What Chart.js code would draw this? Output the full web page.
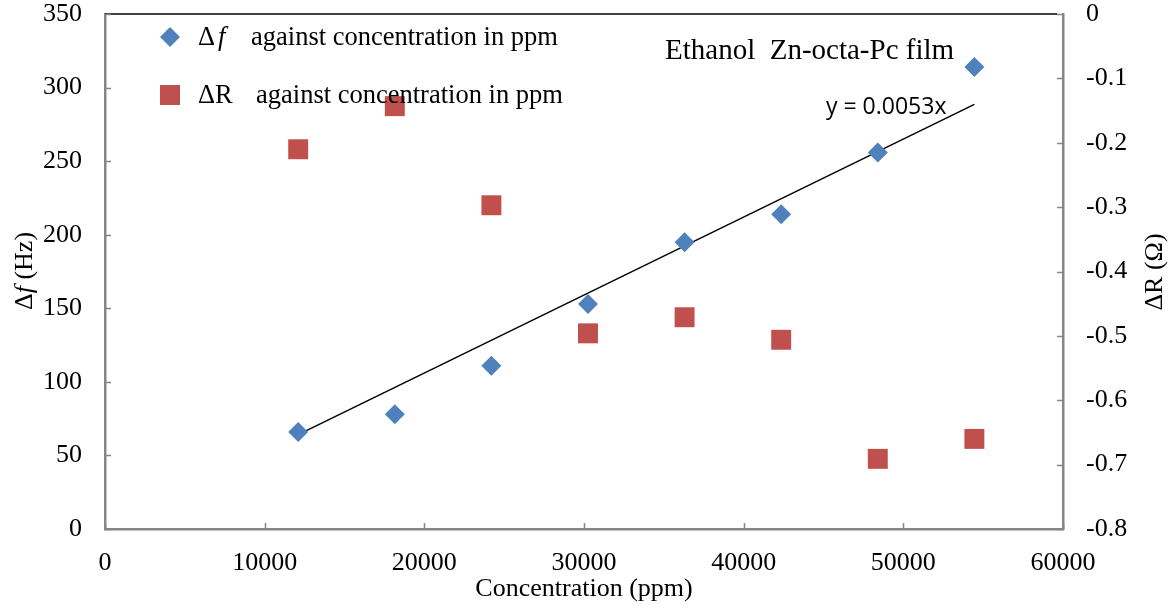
<!DOCTYPE html>
<html lang="en">
<head>
    <meta charset="UTF-8">
    <title>Ethanol Zn-octa-Pc film</title>
    <style>
        body { margin: 0; background: #fff; }
        .chart-container { width: 1175px; height: 609px; position: relative; }
    </style>
</head>
<body>
    <div class="chart-container">
        <canvas id="myChart"></canvas>
    </div>
    <script src="https://cdn.jsdelivr.net/npm/chart.js"></script>
    <script>
    // concentration in ppm
    var concentration = [12100, 18150, 24200, 30250, 36300, 42350, 48400, 54450];
    // frequency shift (Hz), left axis
    var deltaF = [66, 78, 111, 153, 195, 214, 256, 314];
    // resistance change (ohm), right axis
    var deltaR = [-0.21, -0.143, -0.297, -0.496, -0.471, -0.506, -0.691, -0.66];
    // linear fit y = 0.0053x, drawn between first and last point
    var fitX = [12100, 54450];
    var fitY = [64.1, 288.6];

    var serif = '"Liberation Serif", "Times New Roman", serif';
    var axisGray = '#868686';

    function pts(xs, ys) {
        var out = [];
        for (let i = 0; i < xs.length; i++) out.push({ x: xs[i], y: ys[i] });
        return out;
    }

    // no extra room for half labels, the plot box is fixed
    function noPadV(s) { s.paddingTop = 0; s.paddingBottom = 0; }

    // inside ticks, top border, mixed-font titles and legend
    const decorations = {
        id: 'decorations',
        afterDraw(chart) {
            const ctx = chart.ctx;
            const a = chart.chartArea;
            const sx = chart.scales.x, sy = chart.scales.y, sr = chart.scales.y1;
            ctx.save();
            ctx.strokeStyle = '#000';
            ctx.lineWidth = 1.5;
            ctx.beginPath();
            ctx.moveTo(a.left, a.top);
            ctx.lineTo(a.right - 6, a.top);
            ctx.stroke();

            ctx.strokeStyle = axisGray;
            ctx.lineWidth = 1.5;
            ctx.beginPath();
            sx.ticks.forEach(t => {
                const px = Math.round(sx.getPixelForValue(t.value)) + 0.5;
                ctx.moveTo(px, a.bottom); ctx.lineTo(px, a.bottom - 6);
            });
            sy.ticks.forEach(t => {
                const py = Math.round(sy.getPixelForValue(t.value)) + 0.5;
                ctx.moveTo(a.left, py); ctx.lineTo(a.left + 6, py);
            });
            sr.ticks.forEach(t => {
                const py = Math.round(sr.getPixelForValue(t.value)) + 0.5;
                ctx.moveTo(a.right, py); ctx.lineTo(a.right - 6, py);
            });
            ctx.stroke();

            ctx.fillStyle = '#000';
            ctx.textBaseline = 'middle';

            // left title
            ctx.save();
            ctx.translate(25, 271);
            ctx.rotate(-Math.PI / 2);
            ctx.textAlign = 'left';
            const parts = [['\u0394', 'normal'], ['f', 'italic'], [' (Hz)', 'normal']];
            let w = 0;
            parts.forEach(p => { ctx.font = p[1] + ' 26px ' + serif; w += ctx.measureText(p[0]).width; });
            let x0 = -w / 2;
            parts.forEach(p => {
                ctx.font = p[1] + ' 26px ' + serif;
                ctx.fillText(p[0], x0, 0);
                x0 += ctx.measureText(p[0]).width;
            });
            ctx.restore();

            // right title
            ctx.save();
            ctx.translate(1155, 272);
            ctx.rotate(-Math.PI / 2);
            ctx.textAlign = 'center';
            ctx.font = '26px ' + serif;
            ctx.fillText('\u0394R (\u03A9)', 0, 0);
            ctx.restore();

            // legend
            ctx.textAlign = 'left';
            ctx.font = '26.5px ' + serif;
            ctx.fillText('\u0394', 198, 38);
            ctx.font = 'italic 26.5px ' + serif;
            ctx.fillText('f', 218, 38);
            ctx.font = '26.5px ' + serif;
            ctx.fillText('against concentration in ppm', 251, 38);
            ctx.fillText('\u0394R', 198, 96);
            ctx.fillText('against concentration in ppm', 256, 96);

            ctx.fillStyle = '#4F81BD';
            ctx.beginPath();
            ctx.moveTo(170, 27); ctx.lineTo(180, 37); ctx.lineTo(170, 47); ctx.lineTo(160, 37);
            ctx.closePath(); ctx.fill();
            ctx.fillStyle = '#C0504D';
            ctx.fillRect(160, 85, 20, 20);

            // annotations
            ctx.fillStyle = '#000';
            ctx.font = '29px ' + serif;
            ctx.fillText('Ethanol  Zn-octa-Pc film', 665, 51);
            ctx.font = '23px "Open Sans", sans-serif';
            ctx.fillText('y = 0.0053x', 826, 107);
            ctx.restore();
        }
    };

    const data = {
        datasets: [
            {
                label: '\u0394f against concentration in ppm',
                data: pts(concentration, deltaF),
                yAxisID: 'y',
                showLine: false,
                pointStyle: 'rectRot',
                pointRadius: 10,
                pointBackgroundColor: '#4F81BD',
                pointBorderWidth: 0,
                order: 0
            },
            {
                label: '\u0394R against concentration in ppm',
                data: pts(concentration, deltaR),
                yAxisID: 'y1',
                showLine: false,
                pointStyle: 'rect',
                pointRadius: 14.1,
                pointBackgroundColor: '#C0504D',
                pointBorderWidth: 0,
                order: 1
            },
            {
                label: 'fit',
                data: pts(fitX, fitY),
                yAxisID: 'y',
                showLine: true,
                borderColor: '#000',
                borderWidth: 1.5,
                pointRadius: 0,
                order: 2
            }
        ]
    };

    const config = {
        type: 'scatter',
        data: data,
        options: {
            responsive: true,
            maintainAspectRatio: false,
            animation: false,
            layout: { padding: { top: 14, left: 0, right: 0, bottom: 0 } },
            plugins: {
                legend: { display: false },
                tooltip: { enabled: false }
            },
            scales: {
                x: {
                    type: 'linear',
                    min: 0,
                    max: 60000,
                    afterFit: s => { s.height = 80; s.paddingLeft = 0; s.paddingRight = 0; },
                    grid: { display: false, drawTicks: false },
                    border: { color: axisGray, width: 2.5 },
                    ticks: {
                        stepSize: 10000,
                        padding: 19,
                        color: '#000',
                        font: { family: serif, size: 26 },
                        callback: v => String(v)
                    },
                    title: {
                        display: true,
                        text: 'Concentration (ppm)',
                        color: '#000',
                        font: { family: serif, size: 26 },
                        padding: { top: 0, bottom: 4 }
                    }
                },
                y: {
                    position: 'left',
                    min: 0,
                    max: 350,
                    afterFit: s => { s.width = 105; noPadV(s); },
                    grid: { display: false, drawTicks: false },
                    border: { color: axisGray, width: 2.5 },
                    ticks: {
                        stepSize: 50,
                        padding: 23,
                        color: '#000',
                        font: { family: serif, size: 26 }
                    }
                },
                y1: {
                    position: 'right',
                    min: -0.8,
                    max: 0,
                    afterFit: s => { s.width = 112; noPadV(s); },
                    grid: { display: false, drawTicks: false },
                    border: { color: axisGray, width: 2.5 },
                    ticks: {
                        stepSize: 0.1,
                        padding: 23,
                        color: '#000',
                        font: { family: serif, size: 26 },
                        callback: v => v === 0 ? '0' : v.toFixed(1)
                    }
                }
            }
        },
        plugins: [decorations]
    };

    new Chart(document.getElementById('myChart'), config);
    </script>
</body>
</html>
